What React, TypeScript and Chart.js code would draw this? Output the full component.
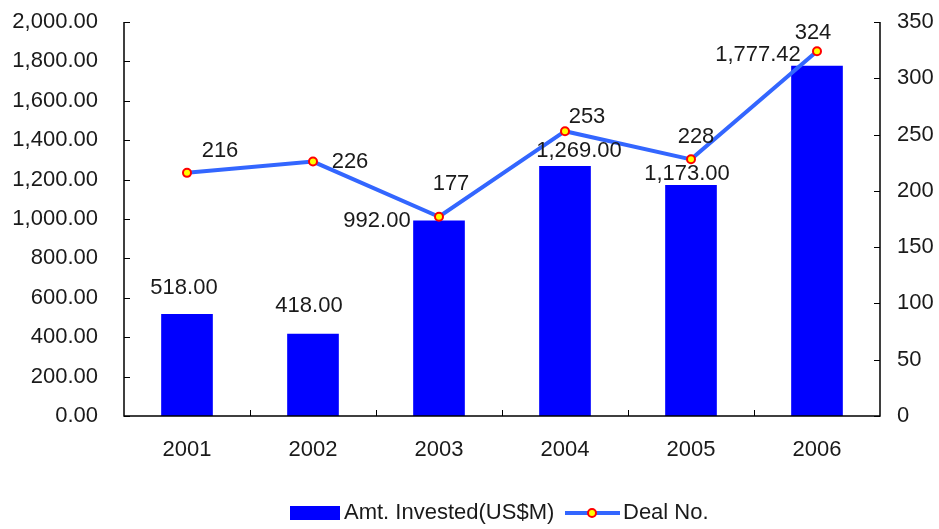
import React, { useEffect, useRef } from "react";
import { Chart, registerables } from "chart.js";

Chart.register(...registerables);

const years = ["2001", "2002", "2003", "2004", "2005", "2006"];
const amountInvested = [518.0, 418.0, 992.0, 1269.0, 1173.0, 1777.42];
const dealNumbers = [216, 226, 177, 253, 228, 324];
const amountLabels = ["518.00", "418.00", "992.00", "1,269.00", "1,173.00", "1,777.42"];
const dealLabels = ["216", "226", "177", "253", "228", "324"];

// label offsets (style config, px from mark anchor to label center)
const barLabelOffsets = [[-3, -26], [-4, -28], [-62, 0], [14, -15], [-4, -11], [-59, -11]];
const lineLabelOffsets = [[33, -22], [37, 0], [12, -33], [22, -14], [5, -22], [-4, -18]];

const FONT = '"Liberation Sans", Arial, sans-serif';
const FS = 22;
const TEXT = "#1a1a1a";

const fmt = (v: number) =>
  v.toLocaleString("en-US", { minimumFractionDigits: 2, maximumFractionDigits: 2 });

const fitVertical = (w: number) => (s: any) => {
  s.width = w;
  s.paddingTop = 0;
  s.paddingBottom = 0;
};

const overlayPlugin = {
  id: "overlay",
  afterDatasetsDraw(chart: any) {
    const ctx = chart.ctx;
    const { chartArea } = chart;
    const yl = chart.scales.y;
    const yr = chart.scales.y1;
    ctx.save();
    ctx.strokeStyle = "#000";
    ctx.lineWidth = 1.5;
    ctx.beginPath();
    ctx.moveTo(chartArea.left, chartArea.top);
    ctx.lineTo(chartArea.left, chartArea.bottom);
    ctx.lineTo(chartArea.right, chartArea.bottom);
    ctx.lineTo(chartArea.right, chartArea.top);
    ctx.stroke();
    ctx.lineWidth = 1;
    ctx.beginPath();
    yl.ticks.forEach((t: any) => {
      const py = Math.round(yl.getPixelForValue(t.value)) + 0.5;
      ctx.moveTo(chartArea.left, py);
      ctx.lineTo(chartArea.left + 6, py);
    });
    yr.ticks.forEach((t: any) => {
      const py = Math.round(yr.getPixelForValue(t.value)) + 0.5;
      ctx.moveTo(chartArea.right, py);
      ctx.lineTo(chartArea.right - 6, py);
    });
    const n = years.length;
    const cw = (chartArea.right - chartArea.left) / n;
    for (let i = 1; i < n; i++) {
      const px = Math.round(chartArea.left + cw * i) + 0.5;
      ctx.moveTo(px, chartArea.bottom);
      ctx.lineTo(px, chartArea.bottom - 6);
    }
    ctx.stroke();
    ctx.restore();
  },
  afterDraw(chart: any) {
    const ctx = chart.ctx;
    const barMeta = chart.getDatasetMeta(1);
    const lineMeta = chart.getDatasetMeta(0);
    ctx.save();
    ctx.font = `${FS}px ${FONT}`;
    ctx.fillStyle = TEXT;
    ctx.textAlign = "center";
    ctx.textBaseline = "middle";
    barMeta.data.forEach((el: any, i: number) => {
      const [dx, dy] = barLabelOffsets[i];
      ctx.fillText(amountLabels[i], el.x + dx, el.y + dy);
    });
    lineMeta.data.forEach((el: any, i: number) => {
      const [dx, dy] = lineLabelOffsets[i];
      ctx.fillText(dealLabels[i], el.x + dx, el.y + dy);
    });

    // legend
    const ly = 513;
    ctx.fillStyle = "#0000ff";
    ctx.fillRect(290, ly - 7, 50, 14);
    ctx.fillStyle = TEXT;
    ctx.textAlign = "left";
    ctx.fillText("Amt. Invested(US$M)", 344, ly);
    ctx.strokeStyle = "#3366ff";
    ctx.lineWidth = 4;
    ctx.beginPath();
    ctx.moveTo(565, ly);
    ctx.lineTo(620, ly);
    ctx.stroke();
    ctx.beginPath();
    ctx.arc(592, ly, 4, 0, Math.PI * 2);
    ctx.fillStyle = "#ffff00";
    ctx.fill();
    ctx.lineWidth = 2;
    ctx.strokeStyle = "#ff0000";
    ctx.stroke();
    ctx.fillStyle = TEXT;
    ctx.fillText("Deal No.", 623, ly);
    ctx.restore();
  },
};

export default function App() {
  const ref = useRef<HTMLCanvasElement>(null);
  useEffect(() => {
    document.body.style.margin = "0";
    const chart = new Chart(ref.current!, {
      type: "bar",
      data: {
        labels: years,
        datasets: [
          {
            type: "line",
            label: "Deal No.",
            data: dealNumbers,
            yAxisID: "y1",
            borderColor: "#3366ff",
            borderWidth: 4,
            pointRadius: 4,
            pointBorderWidth: 2,
            pointBorderColor: "#ff0000",
            pointBackgroundColor: "#ffff00",
            tension: 0,
            order: 0,
          } as any,
          {
            type: "bar",
            label: "Amt. Invested(US$M)",
            data: amountInvested,
            yAxisID: "y",
            backgroundColor: "#0000ff",
            categoryPercentage: 1,
            barPercentage: 0.41,
            order: 1,
          },
        ],
      },
      options: {
        animation: false,
        responsive: false,
        maintainAspectRatio: false,
        layout: { padding: { top: 22, left: 0, right: 0, bottom: 0 } },
        plugins: { legend: { display: false }, tooltip: { enabled: false } },
        scales: {
          x: {
            grid: { display: false, drawTicks: false },
            border: { display: false },
            ticks: { color: TEXT, font: { family: FONT, size: FS }, padding: 21 },
            afterFit: (s: any) => {
              s.height = 113;
              s.paddingLeft = 0;
              s.paddingRight = 0;
            },
          },
          y: {
            position: "left",
            min: 0,
            max: 2000,
            grid: { display: false, drawTicks: false },
            border: { display: false },
            ticks: {
              stepSize: 200,
              color: TEXT,
              font: { family: FONT, size: FS },
              padding: 26,
              callback: (v: any) => fmt(Number(v)),
            },
            afterFit: fitVertical(124),
          },
          y1: {
            position: "right",
            min: 0,
            max: 350,
            grid: { display: false, drawTicks: false },
            border: { display: false },
            ticks: {
              stepSize: 50,
              color: TEXT,
              font: { family: FONT, size: FS },
              padding: 17,
            },
            afterFit: fitVertical(59),
          },
        },
      },
      plugins: [overlayPlugin],
    });
    return () => chart.destroy();
  }, []);
  return (
    <div style={{ width: 939, height: 529, background: "#fff" }}>
      <canvas ref={ref} width={939} height={529} style={{ display: "block" }} />
    </div>
  );
}
